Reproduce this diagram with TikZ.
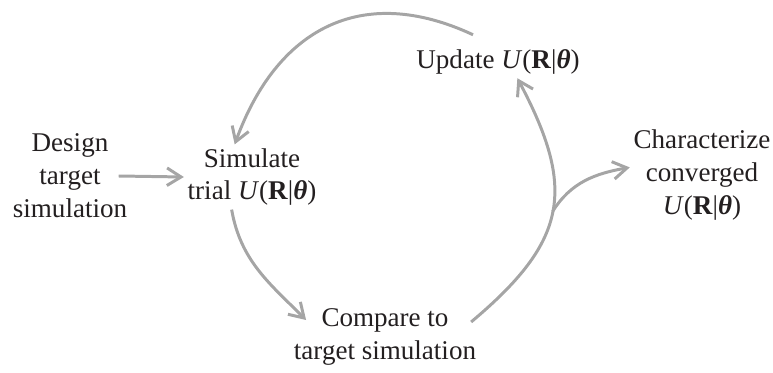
\documentclass[tikz,border=0pt]{standalone}
\usepackage{fontspec}
\setmainfont{Liberation Serif}
\usetikzlibrary{arrows.meta}

\definecolor{loopgray}{RGB}{165,165,165}
\definecolor{inkblack}{RGB}{35,31,32}
\tikzset{
  flow/.style={draw=loopgray, line width=1.7pt,
    -{Straight Barb[length=8pt,width=10pt]}},
  stage/.style={align=center, inner sep=2pt, text=inkblack,
    font=\fontsize{15.4}{18.7}\selectfont}
}
% the potential, written in the text font
\newcommand{\pot}{\textit{U}(\textbf{R}|\textbf{\textit{θ}})}

\begin{document}
\begin{tikzpicture}[x=0.02cm, y=0.02cm]
  \useasboundingbox (0,0) rectangle (773,372);
  %
  % the five stages
  \node[stage] (design)       at (70,196)  {Design\\target\\simulation};
  \node[stage] (simulate)     at (252,195) {Simulate\\trial \pot};
  \node[stage] (update)       at (498,310) {Update \pot};
  \node[stage] (characterize) at (702,197) {Characterize\\converged\\\pot};
  \node[stage] (compare)      at (385,35)  {Compare to\\target simulation};
  %
  % way in
  \draw[flow] ([xshift=-7pt]design.east) -- (simulate.west);
  %
  % the refinement loop
  \draw[flow] (simulate.238) to[out=-80, in=135]
    ([shift={(16,17)}]compare.west);
  \draw[flow] ([xshift=-5pt]compare.9) to[out=40, in=-62, looseness=1.3]
    coordinate[pos=0.5] (fork) (update.320);
  \draw[flow] ([shift={(-25,11)}]update.north) to[out=155, in=70, looseness=1.2]
    (simulate.118);
  %
  % way out, once converged
  \draw[flow] (fork) to[out=58, in=190] (characterize.174);
\end{tikzpicture}
\end{document}
